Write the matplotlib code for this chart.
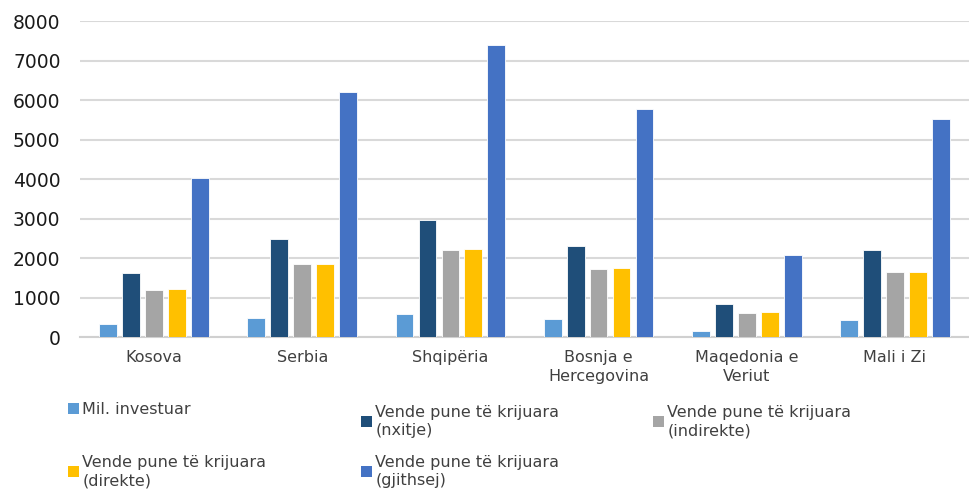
import numpy as np
import matplotlib
matplotlib.use("Agg")
import matplotlib.pyplot as plt
from matplotlib.patches import Patch

# data
countries = ["Kosova", "Serbia", "Shqipëria", "Bosnja e\nHercegovina", "Maqedonia e\nVeriut", "Mali i Zi"]
mil_investuar = [320, 490, 590, 455, 160, 440]
vende_nxitje = [1620, 2480, 2960, 2310, 830, 2200]
vende_indirekte = [1200, 1840, 2200, 1710, 615, 1640]
vende_direkte = [1215, 1855, 2225, 1740, 625, 1655]
vende_gjithsej = [4030, 6200, 7390, 5770, 2070, 5510]

series = [mil_investuar, vende_nxitje, vende_indirekte, vende_direkte, vende_gjithsej]
labels = ["Mil. investuar",
          "Vende pune të krijuara\n(nxitje)",
          "Vende pune të krijuara\n(indirekte)",
          "Vende pune të krijuara\n(direkte)",
          "Vende pune të krijuara\n(gjithsej)"]
colors = ["#5B9BD5", "#1F4E79", "#A5A5A5", "#FFC000", "#4472C4"]
yticks = [0, 1000, 2000, 3000, 4000, 5000, 6000, 7000, 8000]

W, H = 969, 490
fig = plt.figure(figsize=(W / 100, H / 100), dpi=100)
ax = fig.add_axes([80 / W, 1 - 337 / H, 889 / W, (337 - 21) / H])

x = np.arange(len(countries))
step = 0.155
width = 0.12
for i, (vals, col) in enumerate(zip(series, colors)):
    ax.bar(x + (i - 2) * step, vals, width, color=col, edgecolor="white", linewidth=0.6, zorder=3)

ax.set_xlim(-0.5, len(countries) - 0.5)
ax.set_ylim(0, 8000)
ax.set_yticks(yticks)
ax.set_yticklabels([str(v) for v in yticks], fontsize=13.5, color="#1a1a1a", family="DejaVu Sans")
ax.set_xticks(x)
ax.set_xticklabels(countries, fontsize=11.5, color="#404040", family="DejaVu Sans", linespacing=1.35)
ax.tick_params(axis="y", length=0, pad=14)
ax.tick_params(axis="x", length=0, pad=9)
ax.grid(axis="y", color="#D9D9D9", linewidth=1.5, zorder=0)
for s in ["left", "right", "top"]:
    ax.spines[s].set_visible(False)
ax.spines["bottom"].set_color("#D0D0D0")
ax.spines["bottom"].set_linewidth(1.5)

# legend: one small legend per entry, laid out in a 3-column grid (pixel positions)
leg_pos = [(68, 402), (361, 405), (653, 405), (68, 455), (361, 455)]
for lab, col, (px, py) in zip(labels, colors, leg_pos):
    leg = fig.legend([Patch(facecolor=col)], [lab], loc="upper left",
                     bbox_to_anchor=(px / W, 1 - py / H),
                     frameon=False, prop={"family": "DejaVu Sans", "size": 11.5},
                     handlelength=0.69, handleheight=0.69, handletextpad=0.2,
                     borderpad=0, borderaxespad=0)
    for t in leg.get_texts():
        t.set_color("#404040")
        t.set_linespacing(1.25)

fig.savefig("out.png", dpi=100)
